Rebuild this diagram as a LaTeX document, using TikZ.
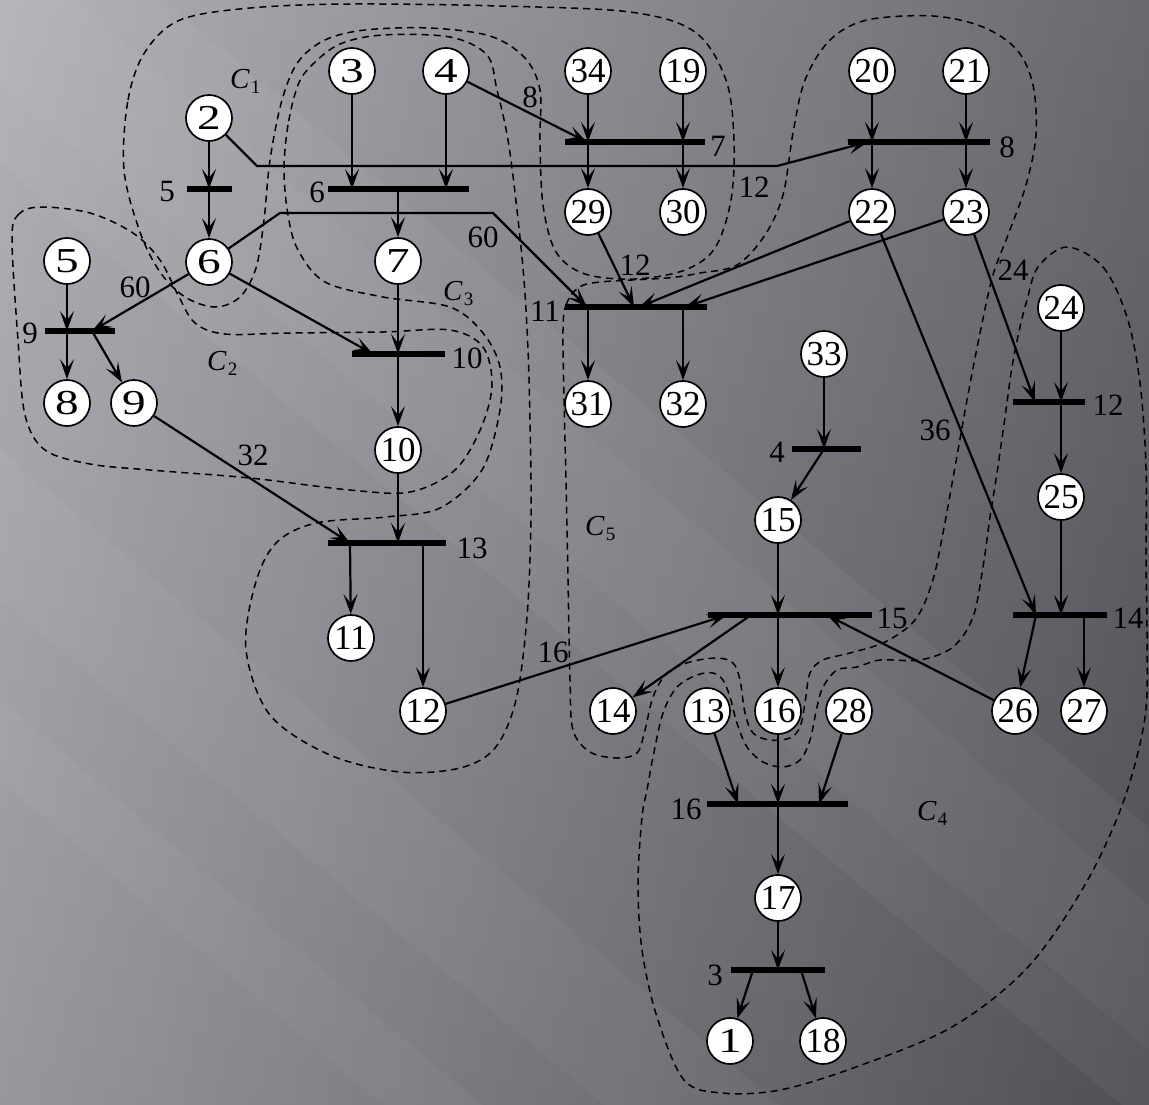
\documentclass[tikz,border=0pt]{standalone}
\usepackage{fontspec}
\setmainfont{Liberation Serif}
\usepackage{graphicx}
\usetikzlibrary{arrows.meta}
\definecolor{bgA}{RGB}{170,168,175}
\definecolor{bgB}{RGB}{90,88,95}
\tikzset{
 bn/.style={circle, draw=black, line width=1.7pt, fill=white, minimum size=46pt, inner sep=0pt, font=\fontsize{35}{35}\selectfont},
 bus/.style={rectangle, fill=black, inner sep=0pt, minimum height=5.5pt},
 lbl/.style={inner sep=0pt, font=\fontsize{31}{31}\selectfont},
 clbl/.style={inner sep=0pt, anchor=base west},
 arr/.style={line width=2.2pt, -{Stealth[length=20pt,width=14pt,inset=9pt]}},
 zone/.style={line width=1.5pt, dash pattern=on 7pt off 5pt},
}
\newcommand{\sd}[1]{\scalebox{1.35}[1]{#1}}
\newcommand{\Cl}[1]{\fontsize{29}{29}\selectfont\textit{C}\kern1pt\raisebox{-5pt}{\fontsize{19}{19}\selectfont #1}}
\begin{document}
\begin{tikzpicture}[x=1pt,y=-1pt]
\useasboundingbox (0,0) rectangle (1149,1104);
\begin{scope}
\clip (0,0) rectangle (1149,1104);
\shade[left color=bgA, right color=bgB] (0,0) rectangle (1149,1104);
\shade[top color=white, bottom color=black, fill opacity=0.10] (0,0) rectangle (1149,1104);
\fill[white, opacity=0.045] (0,-137) -- (1149,828) -- (1149,1128) -- (0,163) -- cycle;
\fill[white, opacity=0.03] (0,-60) -- (1149,905) -- (1149,1050) -- (0,85) -- cycle;
\fill[white, opacity=0.035] (0,450) -- (1149,1415) -- (1149,1560) -- (0,600) -- cycle;
\fill[white, opacity=0.03] (0,700) -- (600,1204) -- (500,1204) -- (0,780) -- cycle;
% zones
\draw[zone] plot[smooth cycle, tension=0.55] coordinates {(124,170) (128,100) (145,52) (180,20) (250,8) (350,4) (500,6) (630,12) (695,32) (726,80) (734,140) (731,200) (715,248) (685,270) (635,279) (585,274) (556,252) (543,205) (540,140) (540,90) (525,58) (490,36) (430,28) (365,30) (325,40) (298,62) (282,100) (270,160) (264,220) (256,268) (240,297) (215,307) (185,297) (160,272) (140,232)};
\draw[zone] plot[smooth cycle, tension=0.55] coordinates {(12,240) (18,215) (40,207) (90,213) (133,233) (160,260) (178,295) (195,323) (225,334) (290,333) (383,332) (450,330) (483,347) (492,385) (481,428) (455,470) (410,492) (350,490) (250,478) (150,470) (90,464) (45,450) (25,415) (18,340)};
\draw[zone] plot[smooth cycle, tension=0.55] coordinates {(298,85) (288,125) (284,170) (288,215) (298,250) (325,282) (383,297) (450,307) (483,333) (500,367) (500,410) (482,470) (440,508) (386,517) (316,523) (276,543) (255,585) (246,650) (270,715) (330,755) (400,772) (460,768) (495,748) (516,700) (527,617) (531,517) (530,420) (528,350) (524,280) (517,210) (508,140) (497,90) (487,55) (450,37) (383,35) (340,44) (312,65)};
\draw[zone] plot[smooth cycle, tension=0.55] coordinates {(1067,247) (1103,267) (1127,317) (1140,383) (1146,467) (1146,560) (1147,640) (1145,717) (1124,800) (1086,883) (1028,967) (952,1027) (856,1067) (780,1090) (722,1093) (684,1080) (657,1017) (642,950) (638,883) (642,817) (647,790) (653,757) (663,713) (677,687) (697,675) (713,673) (723,680) (730,697) (737,723) (747,747) (763,762) (783,767) (800,760) (810,740) (817,707) (823,687) (837,670) (857,667) (880,660) (920,660) (953,647) (973,617) (983,567) (990,517) (997,473) (1005,417) (1012,367) (1020,327) (1027,300) (1038,267)};
\draw[zone] plot[smooth cycle, tension=0.55] coordinates {(563,330) (566,305) (578,288) (600,282) (667,278) (700,273) (737,265) (765,235) (783,195) (793,133) (805,80) (830,40) (867,20) (933,16) (983,27) (1017,50) (1033,85) (1036,135) (1026,185) (1008,235) (993,275) (980,333) (967,400) (955,467) (943,533) (932,583) (915,620) (885,642) (850,653) (823,660) (810,673) (805,703) (800,727) (790,738) (770,740) (753,733) (745,713) (740,680) (733,663) (717,658) (690,662) (667,673) (653,697) (645,730) (637,753) (617,758) (590,752) (573,730) (570,680) (568,580) (566,480) (564,400)};
\end{scope}
% zone labels
\node[clbl] (c1) at (230,88) {\Cl{1}};
\node[clbl] (c2) at (207,370) {\Cl{2}};
\node[clbl] (c3) at (443,300) {\Cl{3}};
\node[clbl] (c4) at (917,820) {\Cl{4}};
\node[clbl] (c5) at (585,535) {\Cl{5}};
% buses
\node[bus, minimum width=45pt] (b5) at (209.5,189) {};
\node[bus, minimum width=141pt] (b6) at (398.5,189) {};
\node[bus, minimum width=140pt] (b7) at (635,142) {};
\node[bus, minimum width=142pt] (b8) at (919,142) {};
\node[bus, minimum width=70pt] (b9) at (80,331) {};
\node[bus, minimum width=93pt] (b10) at (398.5,354) {};
\node[bus, minimum width=142pt] (b11) at (636,307) {};
\node[bus, minimum width=72pt] (b12) at (1049,402) {};
\node[bus, minimum width=118pt] (b13) at (387,543) {};
\node[bus, minimum width=69pt] (b4) at (826.5,449) {};
\node[bus, minimum width=164pt] (b15) at (790,615) {};
\node[bus, minimum width=94pt] (b14) at (1060,615) {};
\node[bus, minimum width=141pt] (b16) at (777.5,804) {};
\node[bus, minimum width=94pt] (b3) at (778,970) {};
% bus labels
\node[lbl] (lb5) at (167,191) {5};
\node[lbl] (lb6) at (317,192) {6};
\node[lbl] (lb7) at (718,146) {7};
\node[lbl] (lb8) at (1007,147) {8};
\node[lbl] (lb9) at (30,333) {9};
\node[lbl] (lb10) at (467,358) {10};
\node[lbl] (lb11) at (545,311) {11};
\node[lbl] (lb12) at (1108,405) {12};
\node[lbl] (lb13) at (472,548) {13};
\node[lbl] (lb4) at (777,452) {4};
\node[lbl] (lb15) at (892,618) {15};
\node[lbl] (lb14) at (1128,618) {14};
\node[lbl] (lb16) at (686,809) {16};
\node[lbl] (lb3) at (715,975) {3};
% circles
\node[bn] (n3) at (352,71) {\sd{3}};
\node[bn] (n4) at (446,71) {\sd{4}};
\node[bn] (n34) at (588,71) {34};
\node[bn] (n19) at (683,71) {19};
\node[bn] (n20) at (872,71) {20};
\node[bn] (n21) at (966,71) {21};
\node[bn] (n2) at (209,118) {\sd{2}};
\node[bn] (n29) at (588,212) {29};
\node[bn] (n30) at (683,212) {30};
\node[bn] (n22) at (872,212) {22};
\node[bn] (n23) at (966,212) {23};
\node[bn] (n5) at (67,261) {\sd{5}};
\node[bn] (n6) at (209,262) {\sd{6}};
\node[bn] (n7) at (398,261) {\sd{7}};
\node[bn] (n24) at (1061,308) {24};
\node[bn] (n33) at (824,354) {33};
\node[bn] (n8) at (67,403) {\sd{8}};
\node[bn] (n9) at (134,403) {\sd{9}};
\node[bn] (n31) at (588,404) {31};
\node[bn] (n32) at (683,404) {32};
\node[bn] (n10) at (398,450) {10};
\node[bn] (n25) at (1061,497) {25};
\node[bn] (n15) at (778,520) {15};
\node[bn] (n11) at (351,638) {11};
\node[bn] (n12) at (423,711) {12};
\node[bn] (n14) at (613,711) {14};
\node[bn] (n13) at (707,711) {13};
\node[bn] (n16) at (778,711) {16};
\node[bn] (n28) at (849,711) {28};
\node[bn] (n26) at (1015,711) {26};
\node[bn] (n27) at (1084,711) {27};
\node[bn] (n17) at (778,898) {17};
\node[bn] (n1) at (730,1041) {\sd{1}};
\node[bn] (n18) at (823,1041) {18};
% bend points and arrow ends
\coordinate (k2a) at (257,166);
\coordinate (k2b) at (777,166);
\coordinate (t8) at (868,142);
\coordinate (k6a) at (280,213);
\coordinate (k6b) at (493,213);
\coordinate (t11a) at (587,307);
\coordinate (p9) at (92,331);
\coordinate (t10) at (373,354);
\coordinate (t7) at (587,142);
\coordinate (t11b) at (634,307);
\coordinate (t11c) at (639,307);
\coordinate (t11d) at (685,307);
\coordinate (t13) at (350,543);
\coordinate (t15a) at (727,615);
\coordinate (s15) at (751,615);
\coordinate (t15b) at (827,615);
\coordinate (t14) at (1036,615);
\coordinate (t12) at (1035,402);
\coordinate (t16a) at (738,804);
\coordinate (t16b) at (819,804);
\coordinate (s3a) at (753,970);
\coordinate (s3b) at (801,970);
% connectors
\draw[arr] (n3) -- (n3 |- b6);
\draw[arr] (n4) -- (n4 |- b6);
\draw[arr] (n7 |- b6) -- (n7);
\draw[arr] (n4) -- (t7);
\draw[arr] (n34) -- (n34 |- b7);
\draw[arr] (n34 |- b7) -- (n29);
\draw[arr] (n19) -- (n19 |- b7);
\draw[arr] (n19 |- b7) -- (n30);
\draw[arr] (n20) -- (n20 |- b8);
\draw[arr] (n20 |- b8) -- (n22);
\draw[arr] (n21) -- (n21 |- b8);
\draw[arr] (n21 |- b8) -- (n23);
\draw[arr] (n2) -- (n2 |- b5);
\draw[arr] (n6 |- b5) -- (n6);
\draw[arr] (n2) -- (k2a) -- (k2b) -- (t8);
\draw[arr] (n6) -- (k6a) -- (k6b) -- (t11a);
\draw[arr] (n6) -- (p9);
\draw[arr] (n5) -- (n5 |- b9);
\draw[arr] (n8 |- b9) -- (n8);
\draw[arr] (p9) -- (n9);
\draw[arr] (n6) -- (t10);
\draw[arr] (n7) -- (n7 |- b10);
\draw[arr] (n7 |- b10) -- (n10);
\draw[arr] (n10) -- (n10 |- b13);
\draw[arr] (n9) -- (t13);
\draw[arr] (t13) -- (n11);
\draw[arr] (n12 |- b13) -- (n12);
\draw[arr] (n12) -- (t15a);
\draw[arr] (n29) -- (t11b);
\draw[arr] (n22) -- (t11c);
\draw[arr] (n23) -- (t11d);
\draw[arr] (n31 |- b11) -- (n31);
\draw[arr] (n32 |- b11) -- (n32);
\draw[arr] (n33) -- (n33 |- b4);
\draw[arr] (n33 |- b4) -- (n15);
\draw[arr] (n15) -- (n15 |- b15);
\draw[arr] (n16 |- b15) -- (n16);
\draw[arr] (s15) -- (n14);
\draw[arr] (n26) -- (t15b);
\draw[arr] (n22) -- (t14);
\draw[arr] (n23) -- (t12);
\draw[arr] (n24) -- (n24 |- b12);
\draw[arr] (n24 |- b12) -- (n25);
\draw[arr] (n25) -- (n25 |- b14);
\draw[arr] (t14) -- (n26);
\draw[arr] (n27 |- b14) -- (n27);
\draw[arr] (n13) -- (t16a);
\draw[arr] (n16) -- (n16 |- b16);
\draw[arr] (n28) -- (t16b);
\draw[arr] (n17 |- b16) -- (n17);
\draw[arr] (n17) -- (n17 |- b3);
\draw[arr] (s3a) -- (n1);
\draw[arr] (s3b) -- (n18);
% edge labels
\node[lbl] (e1) at (135,287) {60};
\node[lbl] (e2) at (530,97) {8};
\node[lbl] (e3) at (754,187) {12};
\node[lbl] (e4) at (483,237) {60};
\node[lbl] (e5) at (635,265) {12};
\node[lbl] (e6) at (1013,270) {24};
\node[lbl] (e7) at (935,430) {36};
\node[lbl] (e8) at (253,455) {32};
\node[lbl] (e9) at (553,652) {16};
\end{tikzpicture}
\end{document}
